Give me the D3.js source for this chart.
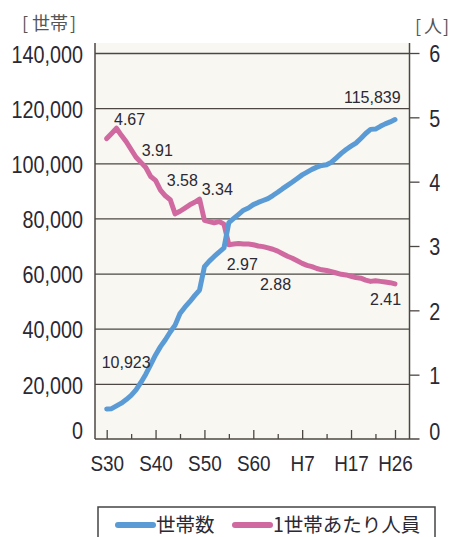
<!DOCTYPE html>
<html><head><meta charset="utf-8">
<script src="https://cdn.jsdelivr.net/npm/d3@7/dist/d3.min.js"></script>
<style>
html,body{margin:0;padding:0;background:#fff;}
svg{display:block;}
.num{font-family:"Liberation Sans",Arial,sans-serif;}
.jp{font-family:"Noto Sans CJK JP","Noto Sans CJK SC",sans-serif;}
</style></head>
<body>
<svg id="c" width="452" height="537"></svg>
<script>
// ---- data ----
const years = d3.range(1955, 2015);
const households = [
  10923, 11000, 12000, 13000, 14300, 15800, 17800, 20500, 23500, 27000,
  30500, 33500, 36000, 38800, 41300, 45500, 47800, 49800, 52000, 54000,
  62500, 64500, 66200, 67800, 69300, 78500, 80000, 81500, 83000, 83800,
  85000, 85800, 86500, 87200, 88300, 89500, 90800, 92000, 93200, 94500,
  95800, 96800, 97800, 98600, 99200, 99500, 100400, 102000, 103600, 105000,
  106200, 107300, 109000, 110800, 112300, 112400, 113400, 114300, 115000, 115839
];
const perHousehold = [
  4.67, 4.75, 4.83, 4.72, 4.62, 4.50, 4.38, 4.30, 4.22, 4.08,
  4.02, 3.87, 3.78, 3.72, 3.50, 3.54, 3.59, 3.64, 3.68, 3.73,
  3.40, 3.38, 3.36, 3.38, 3.34, 3.02, 3.03, 3.04, 3.03, 3.03,
  3.02, 3.00, 2.99, 2.97, 2.95, 2.92, 2.88, 2.84, 2.81, 2.77,
  2.73, 2.70, 2.68, 2.65, 2.63, 2.62, 2.60, 2.58, 2.56, 2.55,
  2.53, 2.51, 2.50, 2.47, 2.45, 2.46, 2.45, 2.44, 2.43, 2.41
];
const leftTicks = [0, 20000, 40000, 60000, 80000, 100000, 120000, 140000];
const rightTicks = [0, 1, 2, 3, 4, 5, 6];
const majorTickYears = [1955, 1965, 1975, 1985, 1995, 2005, 2014];
const majorTickLabels = ["S30", "S40", "S50", "S60", "H7", "H17", "H26"];
const minorTickYears = [1960, 1970, 1980, 1990, 2000, 2010];
const perLabels = [
  {year: 1956, v: 4.83, text: "4.67"},
  {year: 1962, v: 4.30, text: "3.91"},
  {year: 1967, v: 3.78, text: "3.58"},
  {year: 1974, v: 3.73, text: "3.34"},
  {year: 1980, v: 3.02, text: "2.97"},
  {year: 1987, v: 2.99, text: "2.88"},
  {year: 2014, v: 2.41, text: "2.41"}
];
const hhLabels = [
  {year: 1955, v: 10923, text: "10,923"},
  {year: 2014, v: 115839, text: "115,839"}
];
const legendItems = [
  {name: "世帯数", key: "hh"},
  {name: "1世帯あたり人員", key: "per"}
];

// ---- layout ----
const colors = {hh: "#5b9bd5", per: "#d0699f"};
const gridColor = "#4d4743";
const textColor = "#2b2933";
const plot = {left: 95, right: 409.5, top: 43, bottom: 439};
const narrow = "scale(0.86,1)";

const svg = d3.select("#c");
const x = d3.scaleLinear().domain([1955, 2014]).range([106.7, 395]);
const yL = d3.scaleLinear().domain([0, 140000]).range([439, 53]);
const yR = d3.scaleLinear().domain([0, 6]).range([439, 53]);

// background
svg.append("rect").attr("x", plot.left).attr("y", plot.top)
  .attr("width", plot.right - plot.left).attr("height", plot.bottom - plot.top)
  .attr("fill", "#f8f7f2");

// grid lines
const grid = svg.append("g").attr("transform", `translate(${plot.left},0)`)
  .call(d3.axisLeft(yL).tickValues(leftTicks.slice(1)).tickSize(-(plot.right - plot.left)).tickFormat(""));
grid.select(".domain").remove();
grid.selectAll(".tick line").attr("stroke", gridColor).attr("stroke-width", 1.3);

// left axis labels
const la = svg.append("g").attr("transform", `translate(${plot.left},0)`)
  .call(d3.axisLeft(yL).tickValues(leftTicks).tickSize(0).tickPadding(14).tickFormat(d3.format(",")));
la.select(".domain").remove();
la.selectAll(".tick text").attr("class", "num").attr("font-size", 23).attr("fill", textColor)
  .attr("transform", narrow)
  .attr("dy", d => d === 0 ? "-0.04em" : "0.40em");

// right axis
const ra = svg.append("g").attr("transform", `translate(${plot.right},0)`)
  .call(d3.axisRight(yR).tickValues(rightTicks).tickSize(10).tickPadding(13).tickFormat(d3.format("d")));
ra.select(".domain").remove();
ra.selectAll(".tick line").attr("stroke", gridColor).attr("stroke-width", 1.3);
ra.selectAll(".tick").filter(d => d === 0).select("line").remove();
ra.selectAll(".tick text").attr("class", "num").attr("font-size", 23).attr("fill", textColor)
  .attr("transform", narrow)
  .attr("dy", d => d === 0 ? "0.04em" : "0.38em");

// bottom axis ticks (inward)
const bMinor = svg.append("g").attr("transform", `translate(0,${plot.bottom})`)
  .call(d3.axisBottom(x).tickValues(minorTickYears).tickSize(-5).tickFormat(""));
bMinor.select(".domain").remove();
bMinor.selectAll(".tick line").attr("stroke", gridColor).attr("stroke-width", 1.3);
const bMajor = svg.append("g").attr("transform", `translate(0,${plot.bottom})`)
  .call(d3.axisBottom(x).tickValues(majorTickYears).tickSize(-9).tickPadding(16)
    .tickFormat((d, i) => majorTickLabels[i]));
bMajor.select(".domain").remove();
bMajor.selectAll(".tick line").attr("stroke", gridColor).attr("stroke-width", 1.3);
bMajor.selectAll(".tick text").attr("class", "num").attr("font-size", 22).attr("fill", textColor)
  .attr("transform", narrow);

// axis frame lines
svg.append("line").attr("x1", plot.left).attr("x2", plot.left).attr("y1", plot.top).attr("y2", plot.bottom)
  .attr("stroke", gridColor).attr("stroke-width", 1.5);
svg.append("line").attr("x1", plot.right).attr("x2", plot.right).attr("y1", plot.top).attr("y2", plot.bottom)
  .attr("stroke", gridColor).attr("stroke-width", 1.5);
svg.append("line").attr("x1", plot.left).attr("x2", plot.right + 10).attr("y1", plot.bottom).attr("y2", plot.bottom)
  .attr("stroke", gridColor).attr("stroke-width", 1.5);

// lines
const linePer = d3.line().x((d, i) => x(years[i])).y(d => yR(d));
const lineHH = d3.line().x((d, i) => x(years[i])).y(d => yL(d));
svg.append("path").datum(perHousehold).attr("d", linePer)
  .attr("fill", "none").attr("stroke", colors.per).attr("stroke-width", 5)
  .attr("stroke-linejoin", "round").attr("stroke-linecap", "round");
svg.append("path").datum(households).attr("d", lineHH)
  .attr("fill", "none").attr("stroke", colors.hh).attr("stroke-width", 5)
  .attr("stroke-linejoin", "round").attr("stroke-linecap", "round");

// data labels
const perOffsets = [[2.4, -3.3], [0.8, -6.4], [1.4, -9.8], [2.1, -4.1], [-2.2, 25.3], [-3.1, 43.3], [-25, 21.1]];
svg.selectAll(".plab").data(perLabels).join("text").attr("class", "num plab")
  .attr("x", (d, i) => x(d.year) + perOffsets[i][0])
  .attr("y", (d, i) => yR(d.v) + perOffsets[i][1])
  .attr("font-size", 16).attr("fill", textColor)
  .text(d => d.text);
const hhOffsets = [[-5, -40.9], [-51, -16.3]];
svg.selectAll(".hlab").data(hhLabels).join("text").attr("class", "num hlab")
  .attr("x", (d, i) => x(d.year) + hhOffsets[i][0])
  .attr("y", (d, i) => yL(d.v) + hhOffsets[i][1])
  .attr("font-size", 16).attr("fill", textColor)
  .text(d => d.text);

// unit labels
const u1 = svg.append("text").attr("class", "jp").attr("y", 30).attr("font-size", 18).attr("fill", "#555");
u1.append("tspan").attr("x", 22).text("[");
u1.append("tspan").attr("x", 32).text("世帯");
u1.append("tspan").attr("dx", 2).text("]");
const u2 = svg.append("text").attr("class", "jp").attr("y", 33).attr("font-size", 18).attr("fill", "#555");
u2.append("tspan").attr("x", 415).text("[");
u2.append("tspan").attr("x", 424).text("人");
u2.append("tspan").attr("dx", 1).text("]");

// legend
svg.append("rect").attr("x", 98).attr("y", 507).attr("width", 337).attr("height", 45)
  .attr("fill", "#fff").attr("stroke", "#444").attr("stroke-width", 1.5);
const legX = [118, 235];
const lg = svg.selectAll(".leg").data(legendItems).join("g").attr("class", "leg")
  .attr("transform", (d, i) => `translate(${legX[i]},525)`);
lg.append("line").attr("x1", 0).attr("x2", 35).attr("y1", 0).attr("y2", 0)
  .attr("stroke", d => colors[d.key]).attr("stroke-width", 6).attr("stroke-linecap", "round");
lg.append("text").attr("class", "jp").attr("x", 38).attr("y", 7).attr("font-size", 19.5)
  .attr("fill", textColor).text(d => d.name);
</script>
</body></html>
